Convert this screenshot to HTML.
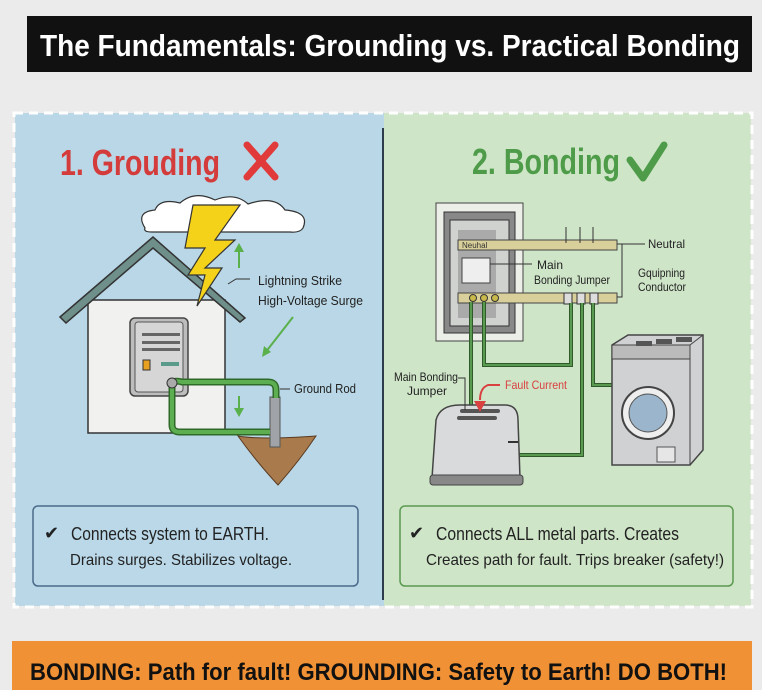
<!DOCTYPE html>
<html><head><meta charset="utf-8"><style>
html,body{margin:0;padding:0;background:#ececec;}
svg{display:block;font-family:"Liberation Sans",sans-serif;}
</style></head><body>
<svg width="762" height="690" viewBox="0 0 762 690" xmlns="http://www.w3.org/2000/svg">
<rect width="762" height="690" fill="#ebebeb"/>
<!-- title -->
<rect x="27" y="16" width="725" height="56" fill="#111"/>
<text x="40" y="56" font-size="31" font-weight="bold" fill="#fff" textLength="700" lengthAdjust="spacingAndGlyphs">The Fundamentals: Grounding vs. Practical Bonding</text>
<!-- panels -->
<rect x="15" y="113" width="369" height="493" fill="#b9d7e6"/>
<rect x="384" y="113" width="367" height="493" fill="#cfe5c8"/>
<rect x="14" y="113" width="738" height="494" fill="none" stroke="#fff" stroke-width="3" stroke-dasharray="9,6"/>
<line x1="383" y1="128" x2="383" y2="600" stroke="#2d3c4a" stroke-width="2"/>
<!-- left title -->
<text x="60" y="175" font-size="36" font-weight="bold" fill="#d43b3b" textLength="160" lengthAdjust="spacingAndGlyphs">1. Grouding</text>
<path d="M247 145 L275 177 M275 145 L247 177" stroke="#e03a3a" stroke-width="7" stroke-linecap="round"/>
<!-- right title -->
<text x="472" y="174" font-size="36" font-weight="bold" fill="#4e9c4a" textLength="148" lengthAdjust="spacingAndGlyphs">2. Bonding</text>
<path d="M630 160 L643 178 L664 145" stroke="#4e9c4a" stroke-width="7" fill="none" stroke-linecap="round" stroke-linejoin="round"/>
<!-- house -->
<rect x="88" y="300" width="137" height="133" fill="#f1f1ef" stroke="#333" stroke-width="1.5"/>
<line x1="225" y1="300" x2="225" y2="433" stroke="#333"/>
<path d="M60 317 L153 237 L245 318 L240 322 L153 248 L66 323 Z" fill="#6f8f8b" stroke="#333" stroke-width="1.5"/>
<rect x="130" y="318" width="58" height="78" rx="5" fill="#bdbdbd" stroke="#444" stroke-width="1.5"/>
<rect x="135" y="322" width="48" height="70" rx="3" fill="#d6d6d6" stroke="#555"/>
<rect x="142" y="333" width="38" height="3" fill="#666"/><rect x="142" y="341" width="38" height="3" fill="#666"/><rect x="142" y="348" width="38" height="3" fill="#666"/>
<rect x="143" y="360" width="7" height="10" fill="#e8a020" stroke="#333" stroke-width="1"/>
<rect x="161" y="362" width="18" height="4" fill="#5a9a8a"/>
<!-- cloud -->
<path d="M145 228 Q135 212 155 210 Q160 198 180 203 Q195 190 215 200 Q235 192 248 204 Q275 195 285 210 Q310 212 303 228 Q300 233 290 232 L152 232 Q143 232 145 228Z" fill="#fff" stroke="#333" stroke-width="1.2"/>
<!-- bolt -->
<path d="M193 205 L240 205 L215 240 L235 240 L205 268 L222 268 L197 306 L205 275 L188 275 L205 248 L185 248 Z" fill="#f5d21a" stroke="#333" stroke-width="1.2"/>
<!-- labels -->
<path d="M228 284 L236 279 L250 279" fill="none" stroke="#333"/>
<text x="258" y="285" font-size="13" fill="#222" textLength="84" lengthAdjust="spacingAndGlyphs">Lightning Strike</text>
<text x="258" y="305" font-size="13" fill="#222" textLength="105" lengthAdjust="spacingAndGlyphs">High-Voltage Surge</text>
<line x1="293" y1="317" x2="265" y2="353" stroke="#5ab04a" stroke-width="2"/>
<path d="M262 357 L264 346 L271 352Z" fill="#5ab04a"/>
<line x1="239" y1="268" x2="239" y2="248" stroke="#5ab04a" stroke-width="2"/><path d="M234 252 L239 243 L244 252Z" fill="#5ab04a"/>
<line x1="239" y1="396" x2="239" y2="412" stroke="#5ab04a" stroke-width="2"/><path d="M234 408 L239 417 L244 408Z" fill="#5ab04a"/>
<!-- soil -->
<path d="M238 436 Q260 440 316 436 Q300 460 278 485 Q255 460 238 436Z" fill="#a87a4c" stroke="#5a3a20"/>
<rect x="270" y="397" width="10" height="50" fill="#a0a4a8" stroke="#555"/>
<path d="M172 385 L172 425 Q172 432 180 432 L270 432 M172 383 Q175 380 182 382 L268 382 Q276 382 276 390 L276 398" fill="none" stroke="#2f6a2a" stroke-width="7"/>
<path d="M172 385 L172 425 Q172 432 180 432 L270 432 M172 383 Q175 380 182 382 L268 382 Q276 382 276 390 L276 398" fill="none" stroke="#5cae50" stroke-width="4"/>
<circle cx="172" cy="383" r="5" fill="#aaa" stroke="#333"/>
<path d="M280 389 L290 389" stroke="#333"/>
<text x="294" y="393" font-size="13" fill="#222" textLength="62" lengthAdjust="spacingAndGlyphs">Ground Rod</text>
<!-- left box -->
<rect x="33" y="506" width="325" height="80" rx="5" fill="#bad8e8" stroke="#4a6a8a" stroke-width="1.5"/>
<text x="44" y="539" font-size="18" fill="#222">✔</text>
<text x="71" y="540" font-size="18" fill="#222" textLength="198" lengthAdjust="spacingAndGlyphs">Connects system to EARTH.</text>
<text x="70" y="565" font-size="16" fill="#222" textLength="222" lengthAdjust="spacingAndGlyphs">Drains surges. Stabilizes voltage.</text>
<!-- right: panel -->
<rect x="436" y="203" width="87" height="138" fill="#eceee8" stroke="#444"/>
<rect x="444" y="212" width="71" height="121" fill="#888" stroke="#333"/>
<rect x="450" y="220" width="59" height="106" fill="#cfd2cf" stroke="#333"/>
<rect x="458" y="230" width="38" height="88" fill="#aaa"/>
<rect x="462" y="258" width="28" height="25" fill="#eee" stroke="#444"/>
<rect x="458" y="240" width="159" height="10" fill="#d9cf9a" stroke="#444"/>
<text x="462" y="248" font-size="8" fill="#333">Neuhal</text>
<rect x="458" y="293" width="159" height="10" fill="#d9cf9a" stroke="#444"/>
<circle cx="473" cy="298" r="3.5" fill="#c9b94a" stroke="#333"/><circle cx="484" cy="298" r="3.5" fill="#c9b94a" stroke="#333"/><circle cx="495" cy="298" r="3.5" fill="#c9b94a" stroke="#333"/>
<rect x="564" y="293" width="8" height="11" fill="#ddd" stroke="#333"/><rect x="577" y="293" width="8" height="11" fill="#ddd" stroke="#333"/><rect x="590" y="293" width="8" height="11" fill="#ddd" stroke="#333"/>
<path d="M566 227 V243 M580 227 V243 M593 227 V243" stroke="#333"/>
<path d="M617 244 L645 244 M622 244 V297 L617 297" fill="none" stroke="#333"/>
<text x="648" y="248" font-size="12" fill="#222" textLength="37" lengthAdjust="spacingAndGlyphs">Neutral</text>
<text x="638" y="277" font-size="12" fill="#222" textLength="47" lengthAdjust="spacingAndGlyphs">Gquipning</text>
<text x="638" y="291" font-size="12" fill="#222" textLength="48" lengthAdjust="spacingAndGlyphs">Conductor</text>
<path d="M490 264 L532 264" stroke="#333"/>
<text x="537" y="269" font-size="12" fill="#222">Main</text>
<text x="534" y="284" font-size="12" fill="#222" textLength="76" lengthAdjust="spacingAndGlyphs">Bonding Jumper</text>
<!-- wires -->
<g fill="none" stroke="#2f5a2a" stroke-width="4">
<path d="M471 302 V418 M484 302 V365 H571 V303 M582 303 V455 H518 M593 303 V385 H612"/>
</g>
<g fill="none" stroke="#5a9a50" stroke-width="2">
<path d="M471 302 V418 M484 302 V365 H571 V303 M582 303 V455 H518 M593 303 V385 H612"/>
</g>
<!-- toaster -->
<path d="M436 420 Q440 405 460 405 L505 405 Q518 405 518 420 L520 478 L432 478 Z" fill="#d9dadb" stroke="#444" stroke-width="1.5"/>
<rect x="430" y="475" width="93" height="10" rx="3" fill="#888" stroke="#444"/>
<rect x="460" y="409" width="40" height="4" rx="2" fill="#555"/><rect x="457" y="416" width="40" height="4" rx="2" fill="#555"/>
<path d="M508 442 L518 442" stroke="#333" stroke-width="2"/>
<text x="394" y="381" font-size="12" fill="#222" textLength="64" lengthAdjust="spacingAndGlyphs">Main Bonding</text>
<text x="407" y="395" font-size="12" fill="#222">Jumper</text>
<path d="M458 378 L465 378 V410" fill="none" stroke="#333"/>
<text x="505" y="389" font-size="12" fill="#d94040" textLength="62" lengthAdjust="spacingAndGlyphs">Fault Current</text>
<path d="M500 385 L488 385 Q480 388 480 400" fill="none" stroke="#d94040" stroke-width="2"/>
<path d="M474 401 L486 401 L480 412Z" fill="#d94040"/>
<!-- washer -->
<path d="M612 345 L628 335 L703 335 L703 450 L690 465 L612 465 Z" fill="#cfd1d3" stroke="#444" stroke-width="1.5"/>
<path d="M612 345 L690 345 L703 335 M690 345 V465" fill="none" stroke="#444"/>
<rect x="612" y="345" width="78" height="14" fill="#bbb" stroke="#444"/>
<rect x="636" y="341" width="16" height="5" fill="#555"/><rect x="656" y="339" width="16" height="5" fill="#555"/><rect x="676" y="337" width="16" height="5" fill="#555"/>
<circle cx="648" cy="413" r="26" fill="#eee" stroke="#444" stroke-width="2"/>
<circle cx="648" cy="413" r="19" fill="#9bb6cc" stroke="#555"/>
<rect x="657" y="447" width="18" height="15" fill="#e6e6e6" stroke="#555"/>
<!-- right box -->
<rect x="400" y="506" width="333" height="80" rx="5" fill="#cfe5c8" stroke="#5a9a50" stroke-width="1.5"/>
<text x="409" y="539" font-size="18" fill="#222">✔</text>
<text x="436" y="540" font-size="18" fill="#222" textLength="243" lengthAdjust="spacingAndGlyphs">Connects ALL metal parts. Creates</text>
<text x="426" y="565" font-size="16" fill="#222" textLength="298" lengthAdjust="spacingAndGlyphs">Creates path for fault. Trips breaker (safety!)</text>
<!-- bottom -->
<rect x="12" y="641" width="740" height="49" fill="#ef9134"/>
<text x="30" y="680" font-size="24" font-weight="bold" fill="#111" textLength="697" lengthAdjust="spacingAndGlyphs">BONDING: Path for fault! GROUNDING: Safety to Earth! DO BOTH!</text>
</svg>
</body></html>
